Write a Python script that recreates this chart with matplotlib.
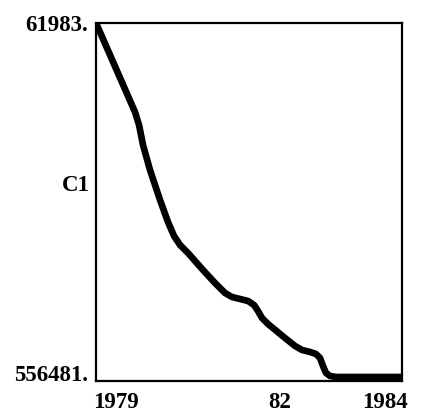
"""
Recreate the C1 decline chart, 1979-1984.
"""

import matplotlib
matplotlib.use("Agg")
import matplotlib.pyplot as plt
import matplotlib.transforms as mtransforms


years = [
    1979.0, 1979.637, 1979.703, 1979.768, 1979.882, 1980.046, 1980.176,
    1980.275, 1980.373, 1980.503, 1980.748, 1980.944, 1981.108, 1981.222,
    1981.353, 1981.484, 1981.582, 1981.647, 1981.712, 1981.810, 1982.088,
    1982.252, 1982.366, 1982.497, 1982.595, 1982.660, 1982.709, 1982.758,
    1982.824, 1982.922, 1984.0,
]
c1_values = [
    61983, 184919, 202876, 230500, 265030, 306470, 336860,
    356200, 368630, 379680, 403160, 421120, 434930, 440460,
    443220, 445980, 451510, 459800, 469470, 477760, 497100,
    508150, 513670, 516430, 519200, 524720, 535770, 545440,
    549580, 550960, 550960,
]

y_ticks = [61983, 556481]
y_tick_labels = ["61983.", "556481."]
x_ticks = [1979, 1982, 1984]
x_tick_labels = ["1979", "82", "1984"]

plt.rcParams["font.family"] = ["Liberation Serif", "DejaVu Serif"]
plt.rcParams["font.weight"] = "bold"

fig = plt.figure(figsize=(4.26, 4.20), dpi=100)
ax = fig.add_axes([0.2254, 0.0929, 0.7183, 0.8523])

ax.plot(
    years,
    c1_values,
    color="black",
    linewidth=4.8,
    solid_capstyle="butt",
    solid_joinstyle="round",
)

ax.set_xlim(1979, 1984)
ax.set_ylim(556481, 61983)

ax.set_xticks(x_ticks)
ax.set_xticklabels(x_tick_labels, fontsize=16.5, fontweight="bold")
ax.set_yticks(y_ticks)
ax.set_yticklabels(y_tick_labels, fontsize=16.5, fontweight="bold")

ax.tick_params(axis="both", length=0)
ax.tick_params(axis="x", pad=8)
ax.tick_params(axis="y", pad=6)

xlabels = ax.get_xticklabels()
xlabels[0].set_ha("left")
xlabels[0].set_transform(
    xlabels[0].get_transform()
    + mtransforms.ScaledTranslation(-2 / 72, 0, fig.dpi_scale_trans)
)
xlabels[2].set_ha("right")
xlabels[2].set_transform(
    xlabels[2].get_transform()
    + mtransforms.ScaledTranslation(4 / 72, 0, fig.dpi_scale_trans)
)

ylabels = ax.get_yticklabels()
ylabels[1].set_va("baseline")

ax.text(
    -0.02,
    0.545,
    "C1",
    transform=ax.transAxes,
    ha="right",
    va="center",
    fontsize=16.5,
    fontweight="bold",
)

for spine in ax.spines.values():
    spine.set_linewidth(1.6)
    spine.set_color("black")

fig.savefig("out.png", dpi=100)
